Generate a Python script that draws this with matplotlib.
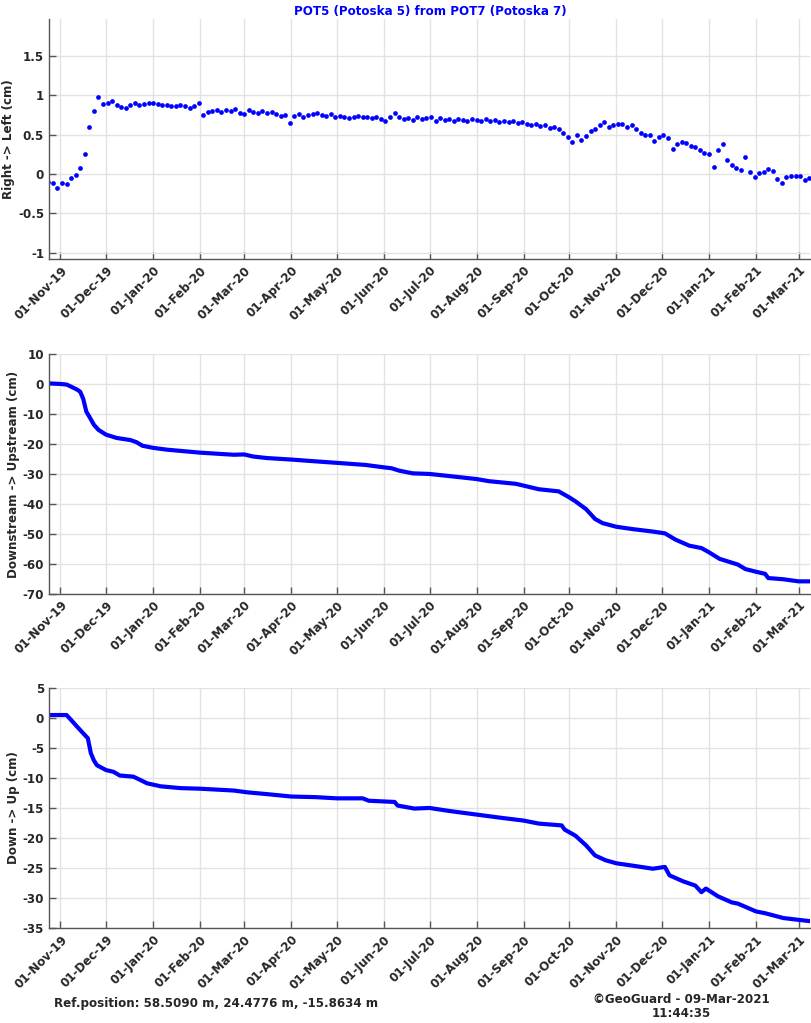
import pandas as pd
import matplotlib
matplotlib.use('Agg')
import matplotlib.pyplot as plt
import matplotlib.dates as mdates
import matplotlib.ticker as mticker

plt.rcParams['font.family'] = ['DejaVu Sans']
plt.rcParams['axes.unicode_minus'] = False

# Right -> Left (cm), one reading every 3 days starting 24-Oct-2019
lr_start = '2019-10-24'
lr_values = [
    -0.10, -0.12, -0.18, -0.12, -0.13, -0.05, -0.01, 0.08, 0.26, 0.60,
    0.80, 0.98, 0.89, 0.90, 0.93, 0.88, 0.85, 0.84, 0.88, 0.90,
    0.88, 0.89, 0.90, 0.90, 0.89, 0.88, 0.88, 0.87, 0.87, 0.88,
    0.86, 0.84, 0.86, 0.90, 0.75, 0.79, 0.80, 0.82, 0.79, 0.81,
    0.80, 0.83, 0.78, 0.76, 0.82, 0.79, 0.78, 0.80, 0.77, 0.79,
    0.76, 0.74, 0.75, 0.65, 0.74, 0.76, 0.73, 0.75, 0.76, 0.78,
    0.75, 0.74, 0.76, 0.72, 0.74, 0.73, 0.71, 0.73, 0.74, 0.72,
    0.73, 0.71, 0.72, 0.70, 0.68, 0.72, 0.77, 0.72, 0.70, 0.71,
    0.69, 0.72, 0.70, 0.71, 0.72, 0.68, 0.71, 0.69, 0.70, 0.68,
    0.70, 0.69, 0.67, 0.70, 0.69, 0.67, 0.70, 0.68, 0.69, 0.66,
    0.68, 0.66, 0.67, 0.65, 0.66, 0.64, 0.62, 0.63, 0.61, 0.62,
    0.59, 0.60, 0.57, 0.52, 0.47, 0.41, 0.49, 0.43, 0.48, 0.55,
    0.57, 0.62, 0.66, 0.60, 0.62, 0.64, 0.63, 0.60, 0.62, 0.57,
    0.52, 0.50, 0.49, 0.42, 0.47, 0.49, 0.46, 0.32, 0.38, 0.41,
    0.40, 0.36, 0.34, 0.30, 0.27, 0.25, 0.09, 0.30, 0.38, 0.18,
    0.12, 0.08, 0.05, 0.22, 0.02, -0.04, 0.01, 0.03, 0.07, 0.04,
    -0.06, -0.12, -0.04, -0.03, -0.02, -0.03, -0.07, -0.05,
]

# Downstream -> Upstream (cm)
ds_dates = [
    '2019-10-24', '2019-11-01', '2019-11-05', '2019-11-08', '2019-11-12',
    '2019-11-14', '2019-11-16', '2019-11-18', '2019-11-20', '2019-11-23',
    '2019-11-26', '2019-12-01', '2019-12-08', '2019-12-17', '2019-12-21',
    '2019-12-25', '2020-01-01', '2020-01-10', '2020-02-01', '2020-02-23',
    '2020-03-01', '2020-03-07', '2020-03-16', '2020-04-01', '2020-04-17',
    '2020-05-01', '2020-05-20', '2020-06-01', '2020-06-06', '2020-06-11',
    '2020-06-20', '2020-07-01', '2020-07-14', '2020-08-01', '2020-08-09',
    '2020-08-27', '2020-09-01', '2020-09-11', '2020-09-24', '2020-10-01',
    '2020-10-05', '2020-10-12', '2020-10-18', '2020-10-23', '2020-11-01',
    '2020-11-12', '2020-11-25', '2020-12-03', '2020-12-10', '2020-12-19',
    '2020-12-27', '2021-01-01', '2021-01-08', '2021-01-20', '2021-01-25',
    '2021-02-01', '2021-02-07', '2021-02-09', '2021-02-19', '2021-03-01',
    '2021-03-08',
]
ds_values = [
    0.2, 0.0, -0.2, -0.9, -1.9, -2.6, -5.0, -9.2, -10.9, -13.6,
    -15.3, -16.9, -18.0, -18.7, -19.4, -20.6, -21.3, -21.9, -22.9, -23.6,
    -23.5, -24.2, -24.7, -25.2, -25.8, -26.3, -27.0, -27.8, -28.1, -28.9,
    -29.8, -30.0, -30.7, -31.7, -32.4, -33.3, -33.9, -35.1, -35.8, -37.8,
    -39.1, -41.7, -45.0, -46.4, -47.6, -48.4, -49.2, -49.8, -51.9, -53.9,
    -54.7, -56.1, -58.3, -60.2, -61.7, -62.6, -63.3, -64.7, -65.1, -65.8,
    -65.8,
]

# Down -> Up (cm)
du_dates = [
    '2019-10-24', '2019-11-05', '2019-11-07', '2019-11-12', '2019-11-16',
    '2019-11-19', '2019-11-21', '2019-11-23', '2019-11-25', '2019-12-01',
    '2019-12-06', '2019-12-10', '2019-12-19', '2019-12-24', '2019-12-28',
    '2020-01-06', '2020-01-19', '2020-02-01', '2020-02-23', '2020-03-03',
    '2020-03-16', '2020-04-01', '2020-04-17', '2020-05-01', '2020-05-18',
    '2020-05-22', '2020-06-08', '2020-06-10', '2020-06-21', '2020-07-01',
    '2020-07-14', '2020-08-01', '2020-08-16', '2020-09-01', '2020-09-11',
    '2020-09-26', '2020-09-28', '2020-10-05', '2020-10-12', '2020-10-18',
    '2020-10-25', '2020-11-01', '2020-11-12', '2020-11-25', '2020-12-03',
    '2020-12-06', '2020-12-15', '2020-12-23', '2020-12-27', '2020-12-30',
    '2021-01-07', '2021-01-16', '2021-01-20', '2021-02-01', '2021-02-07',
    '2021-02-19', '2021-03-01', '2021-03-08',
]
du_values = [
    0.45, 0.45, -0.1, -1.5, -2.6, -3.4, -5.9, -7.1, -7.9, -8.7,
    -9.0, -9.6, -9.8, -10.4, -10.9, -11.4, -11.7, -11.8, -12.1, -12.4,
    -12.7, -13.1, -13.2, -13.4, -13.4, -13.8, -14.0, -14.6, -15.1, -15.0,
    -15.5, -16.1, -16.6, -17.1, -17.6, -17.9, -18.6, -19.6, -21.2, -22.9,
    -23.7, -24.2, -24.6, -25.1, -24.8, -26.2, -27.2, -27.9, -29.0, -28.4,
    -29.7, -30.7, -30.9, -32.2, -32.5, -33.3, -33.6, -33.8,
]

y_labels = ['Right -> Left (cm)', 'Downstream -> Upstream (cm)', 'Down -> Up (cm)']
y_limits = [(-1.08, 1.97), (-70, 10), (-35, 5)]
y_ticks = [[-1, -0.5, 0, 0.5, 1, 1.5], list(range(-70, 11, 10)), list(range(-35, 6, 5))]

title = 'POT5 (Potoska 5) from POT7 (Potoska 7)'
ref_text = 'Ref.position: 58.5090 m, 24.4776 m, -15.8634 m'
stamp_text = '\u00a9GeoGuard - 09-Mar-2021\n11:44:35'

lr_dates = pd.date_range(lr_start, periods=len(lr_values), freq='3D')
ds_dates = pd.to_datetime(ds_dates)
du_dates = pd.to_datetime(du_dates)

txt_col = '#262626'
blue = '#0000ff'
fs = 8.6

fig = plt.figure(figsize=(8.12, 10.23), dpi=100)
positions = [
    [0.0603, 0.7468, 0.9372, 0.2346],
    [0.0603, 0.4194, 0.9372, 0.2346],
    [0.0603, 0.0926, 0.9372, 0.2352],
]
axes = [fig.add_axes(p) for p in positions]

axes[0].plot(lr_dates, lr_values, 'o', color=blue, ms=3.4, mew=0)
axes[1].plot(ds_dates, ds_values, '-', color=blue, lw=3.0, solid_joinstyle='round')
axes[2].plot(du_dates, du_values, '-', color=blue, lw=3.0, solid_joinstyle='round')

for ax, lab, lim, ticks in zip(axes, y_labels, y_limits, y_ticks):
    ax.set_xlim(pd.Timestamp('2019-10-24 10:00'), pd.Timestamp('2021-03-08 12:00'))
    ax.set_ylim(lim)
    ax.set_yticks(ticks)
    ax.yaxis.set_major_formatter(mticker.FormatStrFormatter('%g'))
    ax.xaxis.set_major_locator(mdates.MonthLocator(bymonthday=1))
    ax.xaxis.set_major_formatter(mdates.DateFormatter('%d-%b-%y'))
    ax.grid(True, color='#e3e3e3', lw=1)
    ax.set_axisbelow(True)
    for s in ['top', 'right']:
        ax.spines[s].set_visible(False)
    for s in ['left', 'bottom']:
        ax.spines[s].set_color('#555555')
        ax.spines[s].set_linewidth(1.0)
    ax.tick_params(direction='in', length=5, width=1, color='#555555',
                   labelsize=fs, labelcolor=txt_col)
    for t in ax.get_xticklabels():
        t.set_rotation(45)
        t.set_ha('right')
        t.set_rotation_mode('anchor')
        t.set_fontweight('bold')
    for t in ax.get_yticklabels():
        t.set_fontweight('bold')
    ax.set_ylabel(lab, fontsize=fs, fontweight='bold', color=txt_col, labelpad=2)

fig.text(0.5295, 0.989, title, ha='center', va='center', fontsize=fs,
         fontweight='bold', color=blue)
fig.text(0.066, 0.0195, ref_text, ha='left', va='center', fontsize=fs,
         fontweight='bold', color=txt_col)
fig.text(0.839, 0.016, stamp_text, ha='center', va='center', fontsize=fs,
         fontweight='bold', color=txt_col, linespacing=1.1)

fig.savefig('out.png', dpi=100)
plt.close('all')
